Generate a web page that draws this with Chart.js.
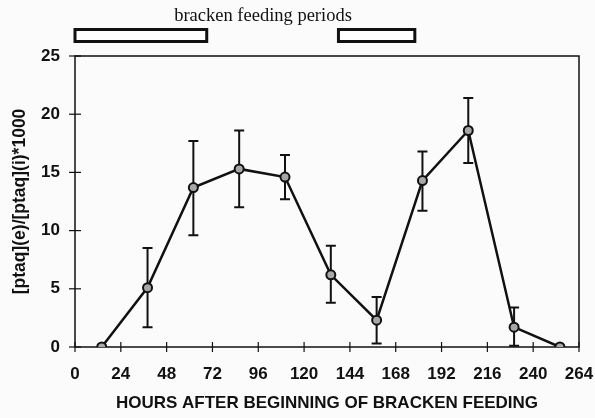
<!DOCTYPE html>
<html>
<head>
<meta charset="utf-8">
<script src="https://cdn.jsdelivr.net/npm/chart.js@4/dist/chart.umd.min.js"></script>
<style>
  html, body { margin: 0; padding: 0; background: #fbfbfb; }
  #wrap { width: 595px; height: 418px; }
</style>
</head>
<body>
<div id="wrap"><canvas id="chart"></canvas></div>
<script>
// hours after the start of bracken feeding
const hours = [14, 38, 62, 86, 110, 134, 158, 182, 206, 230, 254];
const ratio = [0, 5.1, 13.7, 15.3, 14.6, 6.2, 2.3, 14.3, 18.6, 1.7, 0];
const errHigh = [null, 8.5, 17.7, 18.6, 16.5, 8.7, 4.3, 16.8, 21.4, 3.4, null];
const errLow = [null, 1.7, 9.6, 12.0, 12.7, 3.8, 0.3, 11.7, 15.8, 0.1, null];
// bracken feeding periods (hours)
const feedStart = [0, 138];
const feedEnd = [69, 178];
const feedLabel = 'bracken feeding periods';

const INK = '#111';
const SANS = '"Liberation Sans", Arial, sans-serif';

const points = hours.map((h, i) => ({ x: h, y: ratio[i] }));

const decor = {
  id: 'decor',
  beforeDatasetsDraw(chart) {
    const { ctx, chartArea: a, scales: { x, y } } = chart;
    ctx.save();
    ctx.strokeStyle = INK;

    // plot box
    ctx.lineWidth = 1.5;
    ctx.strokeRect(a.left, a.top, a.right - a.left, a.bottom - a.top);

    // ticks crossing the axes
    ctx.lineWidth = 1.2;
    x.ticks.forEach((t) => {
      const px = x.getPixelForValue(t.value);
      ctx.beginPath();
      ctx.moveTo(px, a.bottom - 5);
      ctx.lineTo(px, a.bottom + 5);
      ctx.stroke();
    });
    y.ticks.forEach((t) => {
      const py = y.getPixelForValue(t.value);
      ctx.beginPath();
      ctx.moveTo(a.left - 6, py);
      ctx.lineTo(a.left + 6, py);
      ctx.stroke();
    });

    // error bars
    ctx.lineWidth = 2;
    hours.forEach((h, i) => {
      if (errHigh[i] == null) return;
      const px = x.getPixelForValue(h);
      const top = y.getPixelForValue(errHigh[i]);
      const bot = y.getPixelForValue(errLow[i]);
      ctx.beginPath();
      ctx.moveTo(px, top);
      ctx.lineTo(px, bot);
      ctx.moveTo(px - 5, top);
      ctx.lineTo(px + 5, top);
      ctx.moveTo(px - 5, bot);
      ctx.lineTo(px + 5, bot);
      ctx.stroke();
    });

    // feeding period bars above the plot
    ctx.lineWidth = 3;
    ctx.fillStyle = '#fff';
    feedStart.forEach((s, i) => {
      const x0 = x.getPixelForValue(s);
      const x1 = x.getPixelForValue(feedEnd[i]);
      ctx.fillRect(x0, 29.5, x1 - x0, 12);
      ctx.strokeRect(x0, 29.5, x1 - x0, 12);
    });

    ctx.fillStyle = INK;
    ctx.font = '18.5px "Liberation Serif", "Times New Roman", serif';
    ctx.textAlign = 'center';
    ctx.textBaseline = 'alphabetic';
    ctx.fillText(feedLabel, 263, 21);
    ctx.restore();
  },
};

new Chart(document.getElementById('chart'), {
  type: 'scatter',
  data: {
    datasets: [{
      data: points,
      showLine: true,
      borderColor: INK,
      borderWidth: 2.5,
      pointRadius: 4.5,
      pointBorderWidth: 2,
      pointBackgroundColor: '#a8a8a8',
      pointBorderColor: INK,
    }],
  },
  options: {
    responsive: true,
    maintainAspectRatio: false,
    animation: false,
    layout: { padding: { top: 56, right: 16, bottom: 0, left: 0 } },
    plugins: { legend: { display: false }, tooltip: { enabled: false } },
    scales: {
      x: {
        type: 'linear',
        min: 0,
        max: 264,
        afterFit(scale) {
          scale.height = 71;
          scale.paddingLeft = 0;
          scale.paddingRight = 0;
        },
        grid: { display: false, drawTicks: false },
        border: { display: false },
        ticks: {
          stepSize: 24,
          padding: 17,
          color: INK,
          font: { family: SANS, size: 17, weight: 'bold' },
        },
        title: {
          display: true,
          text: 'HOURS AFTER BEGINNING OF BRACKEN FEEDING',
          color: INK,
          padding: { top: 0, bottom: 4 },
          font: { family: SANS, size: 17, weight: 'bold' },
        },
      },
      y: {
        min: 0,
        max: 25,
        afterFit(scale) { scale.width = 75; },
        grid: { display: false, drawTicks: false },
        border: { display: false },
        ticks: {
          stepSize: 5,
          padding: 15,
          color: INK,
          font: { family: SANS, size: 17, weight: 'bold' },
        },
        title: {
          display: true,
          text: '[ptaq](e)/[ptaq](i)*1000',
          color: INK,
          padding: { top: 10, bottom: 0 },
          font: { family: SANS, size: 17.5, weight: 'bold' },
        },
      },
    },
  },
  plugins: [decor],
});
</script>
</body>
</html>
